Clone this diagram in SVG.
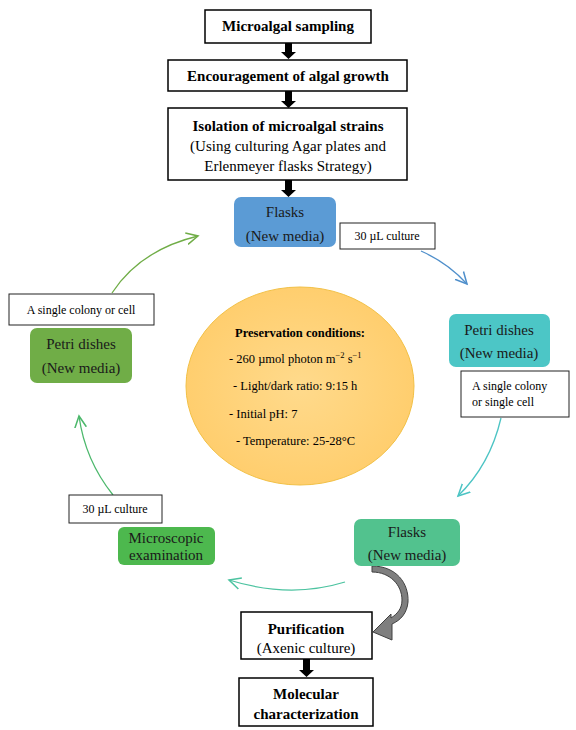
<svg xmlns="http://www.w3.org/2000/svg" width="576" height="730" viewBox="0 0 576 730">
<style>
.box{fill:#fff;stroke:#000;stroke-width:1.5}
.lbl{fill:#fff;stroke:#222;stroke-width:1}
text{font-family:"Liberation Serif","DejaVu Serif","Noto Serif",serif}
.t{font-size:15px;fill:#000;text-anchor:middle}
.b{font-weight:bold}
.n{font-size:15px;fill:#1a1a1a;text-anchor:middle}
.s{font-size:12px;fill:#000}
.e{font-size:12.5px;fill:#000}
.blk{fill:#000}
.c{fill:none;stroke-width:1.3}
</style>
<defs>
<radialGradient id="eg" cx="50%" cy="50%" r="50%">
<stop offset="0" stop-color="#FFDA8C"/>
<stop offset="1" stop-color="#FFCE6E"/>
</radialGradient>
<marker id="m1" markerUnits="userSpaceOnUse" markerWidth="14" markerHeight="14" refX="10" refY="5" orient="auto" viewBox="0 0 12 10"><path d="M0,0 L10,5 L0,10" fill="none" stroke="#4F8FCB" stroke-width="1.3"/></marker>
<marker id="m2" markerUnits="userSpaceOnUse" markerWidth="14" markerHeight="14" refX="10" refY="5" orient="auto" viewBox="0 0 12 10"><path d="M0,0 L10,5 L0,10" fill="none" stroke="#4CC4C4" stroke-width="1.3"/></marker>
<marker id="m3" markerUnits="userSpaceOnUse" markerWidth="14" markerHeight="14" refX="10" refY="5" orient="auto" viewBox="0 0 12 10"><path d="M0,0 L10,5 L0,10" fill="none" stroke="#4CC3A0" stroke-width="1.3"/></marker>
<marker id="m4" markerUnits="userSpaceOnUse" markerWidth="14" markerHeight="14" refX="10" refY="5" orient="auto" viewBox="0 0 12 10"><path d="M0,0 L10,5 L0,10" fill="none" stroke="#4CB86C" stroke-width="1.3"/></marker>
<marker id="m5" markerUnits="userSpaceOnUse" markerWidth="14" markerHeight="14" refX="10" refY="5" orient="auto" viewBox="0 0 12 10"><path d="M0,0 L10,5 L0,10" fill="none" stroke="#70AD47" stroke-width="1.3"/></marker>
</defs>

<g id="connectors">
<path class="blk" d="M285,43 h7 v9 h4 l-7.5,7 l-7.5,-7 h4 z"/>
<path class="blk" d="M285,91 h7 v10 h4 l-7.5,7 l-7.5,-7 h4 z"/>
<path class="blk" d="M285,180 h7 v10 h4 l-7.5,7 l-7.5,-7 h4 z"/>
<path class="blk" d="M303,659 h7 v11 h4 l-7.5,7 l-7.5,-7 h4 z"/>
<path class="c" stroke="#4F8FCB" marker-end="url(#m1)" d="M421,251 Q448,263 467,284"/>
<path class="c" stroke="#4CC4C4" marker-end="url(#m2)" d="M501,418 Q490,465 458,496"/>
<path class="c" stroke="#4CC3A0" marker-end="url(#m3)" d="M345,582 Q290,599 229,580"/>
<path class="c" stroke="#4CB86C" marker-end="url(#m4)" d="M113,495 Q85,460 79,416"/>
<path class="c" stroke="#70AD47" marker-end="url(#m5)" d="M112,293 Q140,250 198,236"/>
<path fill="#7F7F7F" stroke="#404040" stroke-width="1" d="M372,566 C396,566 409,583 408,602 C407,613 401,620 392,624 L392,640 L373,632 L391,614 L391,618 C397,614 402,609 402,600 C402,585 390,572 372,572 Z"/>
</g>

<g id="n-sampling">
<rect class="box" x="205" y="10" width="166" height="33"/>
<text class="t b" x="288" y="31">Microalgal sampling</text>
</g>
<g id="n-encourage">
<rect class="box" x="168" y="60" width="239" height="31"/>
<text class="t b" x="288" y="81">Encouragement of algal growth</text>
</g>
<g id="n-isolation">
<rect class="box" x="168" y="108" width="239" height="72"/>
<text class="t b" x="288" y="131">Isolation of microalgal strains</text>
<text class="t" x="288" y="151">(Using culturing Agar plates and</text>
<text class="t" x="288" y="171">Erlenmeyer flasks Strategy)</text>
</g>
<g id="n-flasks1">
<rect x="234" y="197" width="102" height="50" rx="7" fill="#5B9BD5"/>
<text class="n" x="285" y="217">Flasks</text>
<text class="n" x="285" y="241">(New media)</text>
</g>
<g id="l-30ul-1">
<rect class="lbl" x="340" y="223" width="95" height="26"/>
<text class="s" x="387" y="240" text-anchor="middle">30 µL culture</text>
</g>
<g id="n-petri1">
<rect x="449" y="314" width="101" height="53" rx="7" fill="#4CC6C6"/>
<text class="n" x="499" y="335">Petri dishes</text>
<text class="n" x="499" y="358">(New media)</text>
</g>
<g id="l-colony1">
<rect class="lbl" x="461" y="371" width="108" height="46"/>
<text class="s" x="472" y="390">A single colony</text>
<text class="s" x="472" y="406">or single cell</text>
</g>
<g id="n-flasks2">
<rect x="354" y="519" width="106" height="47" rx="7" fill="#52C28E"/>
<text class="n" x="407" y="537">Flasks</text>
<text class="n" x="407" y="560">(New media)</text>
</g>
<g id="n-purification">
<rect class="box" x="241" y="612" width="131" height="47"/>
<text class="t b" x="306" y="634">Purification</text>
<text class="t" x="306" y="653">(Axenic culture)</text>
</g>
<g id="n-molecular">
<rect class="box" x="239" y="678" width="134" height="48"/>
<text class="t b" x="306" y="699">Molecular</text>
<text class="t b" x="306" y="719">characterization</text>
</g>
<g id="n-microscopic">
<rect x="118" y="527" width="97" height="38" rx="6" fill="#4DB84E"/>
<text class="n" x="166" y="543">Microscopic</text>
<text class="n" x="166" y="560">examination</text>
</g>
<g id="l-30ul-2">
<rect class="lbl" x="69" y="495" width="93" height="28"/>
<text class="s" x="115" y="513" text-anchor="middle">30 µL culture</text>
</g>
<g id="n-petri2">
<rect x="30" y="328" width="102" height="55" rx="7" fill="#70AD47"/>
<text class="n" x="81" y="349">Petri dishes</text>
<text class="n" x="81" y="373">(New media)</text>
</g>
<g id="l-colony2">
<rect class="lbl" x="9" y="294" width="145" height="31"/>
<text class="s" x="81" y="314" text-anchor="middle">A single colony or cell</text>
</g>
<g id="n-conditions">
<ellipse cx="300" cy="386" rx="114" ry="99" fill="url(#eg)" stroke="#F2C045" stroke-width="1"/>
<text class="e b" x="300" y="337" text-anchor="middle">Preservation conditions:</text>
<text class="e" x="229" y="363">- 260 µmol photon m<tspan dy="-5" font-size="8.5">−2</tspan><tspan dy="5"> s</tspan><tspan dy="-5" font-size="8.5">−1</tspan></text>
<text class="e" x="233" y="390">- Light/dark ratio: 9:15 h</text>
<text class="e" x="229" y="418">- Initial pH: 7</text>
<text class="e" x="236" y="445">- Temperature: 25-28°C</text>
</g>
</svg>
